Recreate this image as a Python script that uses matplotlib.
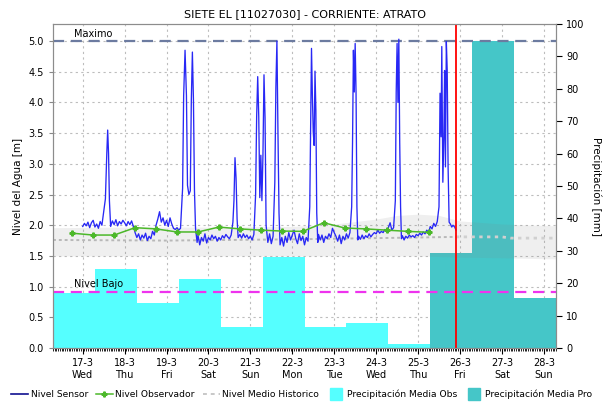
import numpy as np
import matplotlib.pyplot as plt
from matplotlib.lines import Line2D
from matplotlib.transforms import blended_transform_factory

# hours counted from 17-3 00:00
day_ticks = [0, 24, 48, 72, 96, 120, 144, 168, 192, 216, 240, 264]
day_labels = ['17-3\nWed', '18-3\nThu', '19-3\nFri', '20-3\nSat', '21-3\nSun', '22-3\nMon',
              '23-3\nTue', '24-3\nWed', '25-3\nThu', '26-3\nFri', '27-3\nSat', '28-3\nSun']
x_start, x_end = -17, 271

# precipitation (7am to 7am)
obs_start = [-17, 7, 31, 55, 79, 103, 127, 151, 175]
obs_mm = [17.1, 24.4, 13.9, 21.3, 6.5, 28.0, 6.5, 7.7, 1.2]
pro_start = [199, 223, 247]
pro_mm = [29.4, 94.8, 15.3]

# nivel sensor
sensor = [
    (0, 1.98), (1, 2.03), (2, 1.99), (3, 2.05), (4, 1.96), (5, 2.04), (6, 2.08), (7, 1.97),
    (8, 2.02), (9, 1.95), (10, 2.06), (11, 2.0), (12, 2.22), (13, 2.43), (13.8, 3.17),
    (14.3, 3.55), (14.8, 3.17), (15.3, 2.4), (16, 1.98), (17, 2.07), (18, 2.01), (19, 2.09),
    (20, 1.99), (21, 2.06), (22, 2.02), (23, 2.08),
    (24, 2.04), (25, 1.99), (26, 2.06), (27, 2.01), (28, 2.07), (29, 1.98), (30, 1.88),
    (31, 1.80), (32, 1.86), (33, 1.76), (34, 1.84), (35, 1.79), (36, 1.87), (37, 1.75),
    (38, 1.82), (39, 1.78), (40, 1.90), (41, 1.84), (42, 2.0), (43, 2.1), (44, 2.22),
    (45, 2.05), (46, 2.12), (47, 2.0),
    (48, 2.08), (49, 1.98), (50, 2.12), (51, 2.02), (52, 1.95), (53, 1.93), (54, 1.96),
    (55, 1.92), (56, 1.95), (57.2, 2.6), (57.8, 4.11), (58.6, 4.85), (59.4, 4.11), (60.0, 2.65),
    (60.8, 2.5), (61.6, 2.56), (62.2, 4.05), (62.8, 4.82), (63.4, 4.05), (64.0, 2.56),
    (64.6, 1.95), (65.5, 1.72), (66, 1.84), (67, 1.68), (68, 1.80), (69, 1.74), (70, 1.86),
    (71, 1.71),
    (72, 1.80), (73, 1.76), (74, 1.84), (75, 1.78), (76, 1.82), (77, 1.74), (78, 1.80),
    (79, 1.76), (80, 1.83), (81, 1.79), (82, 1.85), (83, 1.81), (84, 1.78), (85, 1.84),
    (86, 2.05), (86.6, 2.4), (87.2, 3.10), (87.8, 2.77), (88.4, 2.1), (89, 1.80), (90, 1.85),
    (91, 1.79), (92, 1.86), (93, 1.80), (94, 1.84), (95, 1.78),
    (96, 1.82), (97, 1.76), (98, 1.85), (99, 2.5), (99.6, 3.77), (100.2, 4.42), (100.8, 3.77),
    (101.4, 2.45), (102.0, 3.14), (102.6, 2.4), (103.2, 3.14), (103.8, 4.45), (104.4, 3.75),
    (105, 2.0), (106, 1.72), (107, 1.86), (108, 1.70), (109, 1.82), (110, 2.7), (110.6, 4.24),
    (111.2, 5.0), (111.8, 3.5), (112.4, 2.2), (113, 1.68), (114, 1.80), (115, 1.66),
    (116, 1.82), (117, 1.72), (118, 1.88), (119, 1.76),
    (120, 1.84), (121, 1.92), (122, 1.78), (123, 1.70), (124, 1.86), (125, 1.75), (126, 1.82),
    (127, 1.68), (128, 1.80), (129, 1.74), (130, 2.3), (130.5, 3.52), (131.0, 4.88),
    (131.5, 4.12), (132.0, 3.52), (132.5, 3.3), (133.0, 4.51), (133.5, 3.88), (134, 2.2),
    (134.6, 1.72), (135, 1.85), (136, 1.76), (137, 1.84), (138, 1.72), (139, 1.82),
    (140, 1.78), (141, 1.86), (142, 1.80), (143, 1.95),
    (144, 1.88), (145, 1.82), (146, 1.74), (147, 1.84), (148, 1.70), (149, 1.82), (150, 1.76),
    (151, 1.86), (152, 1.79), (153, 1.88), (154, 2.3), (154.5, 3.36), (155.0, 4.85),
    (155.5, 4.17), (156.0, 4.96), (156.5, 4.17), (157.0, 2.3), (157.5, 1.76), (158, 1.82),
    (159, 1.77), (160, 1.84), (161, 1.78), (162, 1.83), (163, 1.80), (164, 1.86), (165, 1.81),
    (166, 1.85), (167, 1.88),
    (168, 1.86), (169, 1.92), (170, 1.87), (171, 1.90), (172, 1.88), (173, 1.93), (174, 1.90),
    (175, 1.96), (176, 2.04), (177, 1.92), (178, 1.96), (179, 2.4), (179.5, 4.17),
    (180.0, 4.96), (180.5, 4.0), (181.0, 5.03), (181.5, 3.36), (182, 2.3), (182.5, 1.78),
    (183, 1.83), (184, 1.76), (185, 1.82), (186, 1.79), (187, 1.84), (188, 1.81), (189, 1.83),
    (190, 1.80), (191, 1.85),
    (192, 1.83), (193, 1.87), (194, 1.84), (195, 1.89), (196, 1.86), (197, 1.92), (198, 1.88),
    (199, 1.98), (200, 1.94), (201, 2.03), (202, 1.98), (203, 2.06), (204, 2.3), (204.6, 4.15),
    (205.2, 3.44), (205.6, 4.91), (206.2, 2.7), (206.8, 3.44), (207.2, 4.52), (207.7, 2.95),
    (208.2, 4.99), (208.7, 4.52), (209.2, 2.95), (209.8, 2.05), (210.5, 2.02), (211.3, 1.97),
    (212, 2.0), (213, 1.97), (213.7, 1.92),
]
sensor_h = [p[0] for p in sensor]
sensor_v = [p[1] for p in sensor]

# nivel observador (06h and 18h)
obsv_h = [-6, 6, 18, 30, 42, 54, 66, 78, 90, 102, 114, 126, 138, 150, 162, 174, 186, 198]
obsv_v = [1.87, 1.84, 1.84, 1.96, 1.94, 1.89, 1.89, 1.97, 1.94, 1.92, 1.905, 1.90,
          2.04, 1.955, 1.94, 1.92, 1.90, 1.885]

# historic band and mean
band_h = [-17, 24, 72, 120, 144, 156, 168, 180, 192, 204, 216, 240, 271]
band_lo = [1.50, 1.50, 1.50, 1.50, 1.50, 1.50, 1.50, 1.50, 1.50, 1.49, 1.48, 1.47, 1.45]
band_hi = [1.96, 1.97, 1.97, 1.98, 2.02, 2.06, 2.10, 2.16, 2.18, 2.16, 2.07, 2.02, 1.99]
hist_h = [-17, 48, 120, 192, 213.7, 240, 245, 271]
hist_v = [1.76, 1.75, 1.77, 1.80, 1.81, 1.81, 1.79, 1.79]

nivel_max = 5.0
nivel_bajo = 0.92
now_h = 213.7

level_ticks = np.arange(0, 5.01, 0.5)

fig = plt.figure(figsize=(6.03, 4.05), dpi=100)
ax = fig.add_axes([0.0879, 0.1407, 0.8342, 0.80])
ax2 = ax.twinx()
ax.set_zorder(2)
ax2.set_zorder(1)
ax.patch.set_visible(False)

ax.set_xlim(x_start, x_end)
ax.set_ylim(0, 5.277)
ax2.set_ylim(0, 100)

# grid behind the bars
gcol = '#bdbdbd'
for h in day_ticks:
    ax2.axvline(h, color=gcol, ls=(0, (2, 3)), lw=0.8, zorder=0)
trans = blended_transform_factory(ax2.transAxes, ax.transData)
for v in level_ticks[1:]:
    ax2.plot([0, 1], [v, v], transform=trans, color=gcol, ls=(0, (2, 3)), lw=0.8, zorder=0)

ax2.bar(obs_start, obs_mm, width=24, align='edge', color='#55FFFF', lw=0, zorder=2)
ax2.bar(pro_start, pro_mm, width=24, align='edge', color='#45C6C8', lw=0, zorder=2)

ax.fill_between(band_h, band_lo, band_hi, color='grey', alpha=0.12, lw=0)
hist_h = np.array(hist_h)
hist_v = np.array(hist_v)
past = hist_h <= now_h
ax.plot(hist_h[past], hist_v[past], color='#b8b8b8', ls=(0, (1.5, 1.5)), lw=1.4)
ax.plot(hist_h[hist_h >= now_h], hist_v[hist_h >= now_h], color='#d0d0d0', ls=(0, (1.2, 1.6)), lw=2.0)

ax.axhline(nivel_max, color='#6c7ba0', ls=(0, (5, 3)), lw=1.6)
ax.axhline(nivel_bajo, color='#ee33ee', ls=(0, (5, 3)), lw=1.6)
ax.text(-5, nivel_max + 0.04, 'Maximo', fontsize=7, va='bottom')
ax.text(-5, nivel_bajo + 0.04, 'Nivel Bajo', fontsize=7, va='bottom')

ax.plot(sensor_h, sensor_v, color='#2828f5', lw=0.95)
ax.plot(obsv_h, obsv_v, color='#4cb82a', lw=1.1, marker='P', ms=3.5)
ax.axvline(now_h, color='red', lw=1.3)

ax.set_xticks(day_ticks)
ax.set_xticklabels(day_labels)
ax.set_xticks(np.arange(x_start, x_end + 1, 1), minor=True)
ax.tick_params(axis='x', which='major', length=4, labelsize=7)
ax.tick_params(axis='x', which='minor', length=2, width=0.6)
ax.set_yticks(level_ticks)
ax.set_yticklabels(['%.1f' % v for v in level_ticks])
ax.tick_params(axis='y', length=3, labelsize=7, color='#888888')
ax2.set_yticks(np.arange(0, 101, 10))
ax2.tick_params(axis='y', length=4, labelsize=7)

for a in (ax, ax2):
    for s in a.spines.values():
        s.set_color('#8c8c8c')

ax.set_ylabel('Nivel del Agua [m]', fontsize=7.5)
ax2.set_ylabel('Precipitación [mm]', fontsize=7.5, rotation=270, labelpad=12)
ax.set_title('SIETE EL [11027030] - CORRIENTE: ATRATO', fontsize=8, pad=5)

handles = [
    Line2D([], [], color='#101090', lw=1.2),
    Line2D([], [], color='#4cb82a', lw=1.1, marker='P', ms=3.5),
    Line2D([], [], color='#c8c8c8', lw=1.4, ls=(0, (2, 2))),
    Line2D([], [], color='#55FFFF', marker='s', ms=8, ls='none'),
    Line2D([], [], color='#45C6C8', marker='s', ms=8, ls='none'),
]
labels = ['Nivel Sensor', 'Nivel Observador', 'Nivel Medio Historico',
          'Precipitación Media Obs', 'Precipitación Media Pro']
fig.legend(handles, labels, loc='lower center', bbox_to_anchor=(0.5, -0.005), ncol=5,
           frameon=False, fontsize=6.6, handlelength=1.8, columnspacing=0.9, handletextpad=0.3)

fig.savefig('out.png', dpi=100)
